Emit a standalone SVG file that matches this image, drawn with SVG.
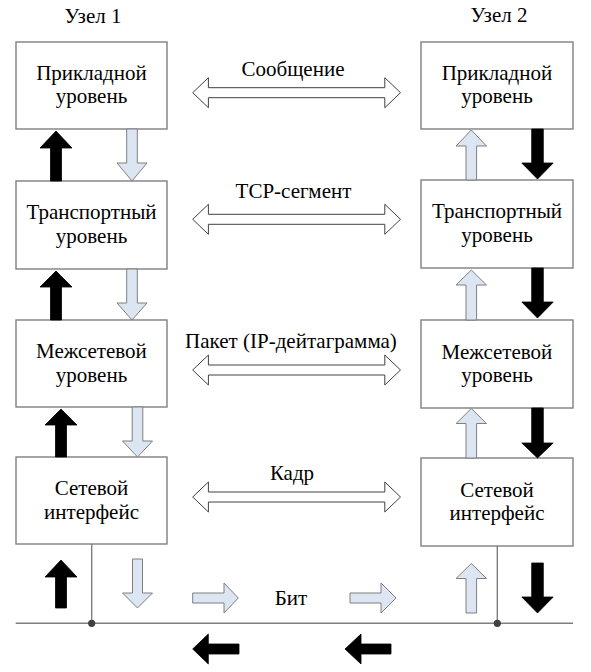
<svg xmlns="http://www.w3.org/2000/svg" width="591" height="672" viewBox="0 0 591 672">
<style>
.box{fill:#fff;stroke:#7f7f7f;stroke-width:1.4}
.blk{fill:#000;stroke:#000;stroke-width:0.8}
.lt{fill:#dce6f2;stroke:#7f7f7f;stroke-width:1}
.dbl{fill:#fff;stroke:#404040;stroke-width:1}
.wire{stroke:#7f7f7f;stroke-width:1.4;fill:none}
.dot{fill:#404040}
</style>
<rect width="591" height="672" fill="#fff"/>
<text font-family="Liberation Serif" font-size="21" text-anchor="middle" x="93" y="22.5">Узел 1</text>
<text font-family="Liberation Serif" font-size="21" text-anchor="middle" x="499" y="22">Узел 2</text>
<g id="node1-app"><rect class="box" x="16" y="42" width="151" height="87"/><text font-family="Liberation Serif" font-size="21" text-anchor="middle" x="91.5" y="80">Прикладной</text><text font-family="Liberation Serif" font-size="21" text-anchor="middle" x="91.5" y="103">уровень</text></g>
<g id="node1-transport"><rect class="box" x="16" y="181" width="151" height="88"/><text font-family="Liberation Serif" font-size="21" text-anchor="middle" x="91.5" y="219.3">Транспортный</text><text font-family="Liberation Serif" font-size="21" text-anchor="middle" x="91.5" y="242.7">уровень</text></g>
<g id="node1-internet"><rect class="box" x="16" y="320" width="151" height="87"/><text font-family="Liberation Serif" font-size="21" text-anchor="middle" x="91.5" y="358">Межсетевой</text><text font-family="Liberation Serif" font-size="21" text-anchor="middle" x="91.5" y="381.5">уровень</text></g>
<g id="node1-netif"><rect class="box" x="16" y="457" width="151" height="87"/><text font-family="Liberation Serif" font-size="21" text-anchor="middle" x="91.5" y="495">Сетевой</text><text font-family="Liberation Serif" font-size="21" text-anchor="middle" x="91.5" y="518.5">интерфейс</text></g>
<g id="node2-app"><rect class="box" x="421" y="42" width="152" height="87"/><text font-family="Liberation Serif" font-size="21" text-anchor="middle" x="497" y="80">Прикладной</text><text font-family="Liberation Serif" font-size="21" text-anchor="middle" x="497" y="103">уровень</text></g>
<g id="node2-transport"><rect class="box" x="421" y="180" width="152" height="88"/><text font-family="Liberation Serif" font-size="21" text-anchor="middle" x="497" y="218.3">Транспортный</text><text font-family="Liberation Serif" font-size="21" text-anchor="middle" x="497" y="241.7">уровень</text></g>
<g id="node2-internet"><rect class="box" x="421" y="320" width="152" height="88"/><text font-family="Liberation Serif" font-size="21" text-anchor="middle" x="497" y="358.5">Межсетевой</text><text font-family="Liberation Serif" font-size="21" text-anchor="middle" x="497" y="382">уровень</text></g>
<g id="node2-netif"><rect class="box" x="421" y="458" width="152" height="88"/><text font-family="Liberation Serif" font-size="21" text-anchor="middle" x="497" y="496.5">Сетевой</text><text font-family="Liberation Serif" font-size="21" text-anchor="middle" x="497" y="520">интерфейс</text></g>
<g id="connectors">
<path class="dbl" d="M192.7,92.7 L208.4,77.7 L208.4,87.7 L384.8,87.7 L384.8,77.7 L400.5,92.7 L384.8,107.7 L384.8,97.7 L208.4,97.7 L208.4,107.7 Z"/>
<path class="dbl" d="M192.7,219.3 L208.4,204.3 L208.4,214.3 L384.8,214.3 L384.8,204.3 L400.5,219.3 L384.8,234.3 L384.8,224.3 L208.4,224.3 L208.4,234.3 Z"/>
<path class="dbl" d="M192.7,370 L208.4,355 L208.4,365 L384.8,365 L384.8,355 L400.5,370 L384.8,385 L384.8,375 L208.4,375 L208.4,385 Z"/>
<path class="dbl" d="M192.7,497 L208.4,482 L208.4,492 L384.8,492 L384.8,482 L400.5,497 L384.8,512 L384.8,502 L208.4,502 L208.4,512 Z"/>
<text font-family="Liberation Serif" font-size="21" text-anchor="middle" x="293" y="76">Сообщение</text>
<text font-family="Liberation Serif" font-size="21" text-anchor="middle" x="293.5" y="197.5">TCP-сегмент</text>
<text font-family="Liberation Serif" font-size="21" text-anchor="middle" x="291" y="348.3">Пакет (IP-дейтаграмма)</text>
<text font-family="Liberation Serif" font-size="21" text-anchor="middle" x="292" y="480">Кадр</text>
<text font-family="Liberation Serif" font-size="21" text-anchor="middle" x="291" y="605">Бит</text>
<polygon class="blk" points="56,131 72,148 61.5,148 61.5,181 50.5,181 50.5,148 40,148"/>
<polygon class="blk" points="56,271 72,287 61.5,287 61.5,320 50.5,320 50.5,287 40,287"/>
<polygon class="blk" points="61,409 77,425 66.5,425 66.5,457 55.5,457 55.5,425 45,425"/>
<polygon class="blk" points="61,560 77,577 66.5,577 66.5,608 55.5,608 55.5,577 45,577"/>
<polygon class="blk" points="531.7,129 543.3,129 543.3,163 553.2,163 537.5,179 521.8,163 531.7,163"/>
<polygon class="blk" points="531.7,268 543.3,268 543.3,302 553.2,302 537.5,318 521.8,302 531.7,302"/>
<polygon class="blk" points="531.7,408 543.3,408 543.3,443 553.2,443 537.5,458 521.8,443 531.7,443"/>
<polygon class="blk" points="531.7,563 543.3,563 543.3,597 553.2,597 537.5,613 521.8,597 531.7,597"/>
<polygon class="blk" points="192.7,649 208.3,634 208.3,644 239,644 239,654 208.3,654 208.3,664"/>
<polygon class="blk" points="345,649 361,634 361,644 391,644 391,654 361,654 361,664"/>
<polygon class="lt" points="126.7,129 137.3,129 137.3,163 147,163 132,181 117,163 126.7,163"/>
<polygon class="lt" points="126.7,269 137.3,269 137.3,303 147,303 132,320 117,303 126.7,303"/>
<polygon class="lt" points="132.2,407 142.8,407 142.8,441 152.5,441 137.5,457 122.5,441 132.2,441"/>
<polygon class="lt" points="132.5,559 142.5,559 142.5,593 152.5,593 137.5,608 122.5,593 132.5,593"/>
<polygon class="lt" points="471.3,130 486.5,146 476.6,146 476.6,180 466,180 466,146 456.1,146"/>
<polygon class="lt" points="471.3,270 486.5,285 476.6,285 476.6,320 466,320 466,285 456.1,285"/>
<polygon class="lt" points="471.3,408.5 486.5,423.5 476.6,423.5 476.6,458 466,458 466,423.5 456.1,423.5"/>
<polygon class="lt" points="471.3,563.5 486.5,578.5 476.6,578.5 476.6,613 466,613 466,578.5 456.1,578.5"/>
<polygon class="lt" points="192.7,593 224,593 224,583 238.3,598 224,613 224,603 192.7,603"/>
<polygon class="lt" points="350,593 381,593 381,583 396,598 381,613 381,603 350,603"/>
<line class="wire" x1="15.7" y1="623.3" x2="573" y2="623.3"/>
<line class="wire" x1="91.7" y1="544" x2="91.7" y2="623.3"/>
<line class="wire" x1="497.3" y1="546" x2="497.3" y2="623.3"/>
<circle class="dot" cx="91.7" cy="623.3" r="3.6"/>
<circle class="dot" cx="497.3" cy="623.3" r="3.6"/>
</g>
</svg>
